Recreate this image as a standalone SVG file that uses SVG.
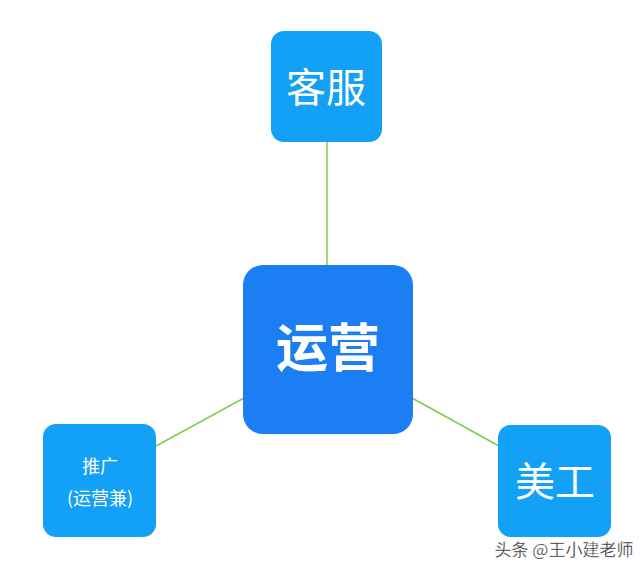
<svg xmlns="http://www.w3.org/2000/svg" width="640" height="570" viewBox="0 0 640 570">
<style>
.n{fill:#12a1f6}
.c{fill:#1b7ff3}
.t{fill:#fff;font-family:"Noto Sans CJK SC","Noto Sans",sans-serif;text-anchor:middle}
.l{stroke:#7ccf4a;stroke-width:1.5;fill:none}
</style>
<rect width="640" height="570" fill="#fff"/>
<g id="connectors">
<line class="l" x1="327" y1="142" x2="327" y2="266"/>
<line class="l" x1="156" y1="446" x2="244" y2="398"/>
<line class="l" x1="412" y1="398" x2="499" y2="446"/>
</g>
<g id="kefu">
<rect class="n" x="271" y="31" width="111" height="111" rx="13"/>
<text class="t" x="326" y="102" font-size="40">客服</text>
</g>
<g id="yunying">
<rect class="c" x="243" y="265" width="170" height="169" rx="20"/>
<text class="t" x="328" y="367" font-size="52" font-weight="bold">运营</text>
</g>
<g id="tuiguang">
<rect class="n" x="43" y="424" width="113" height="113" rx="13"/>
<text class="t" x="100" y="473" font-size="18">推广</text>
<text class="t" x="100" y="505" font-size="18">(运营兼)</text>
</g>
<g id="meigong">
<rect class="n" x="498" y="425" width="113" height="112" rx="13"/>
<text class="t" x="555" y="496" font-size="40">美工</text>
</g>
<text x="564" y="556" font-size="17" font-family="'Noto Sans CJK SC',sans-serif" fill="#222" stroke="#fff" stroke-width="0.3" text-anchor="middle">头条 @王小建老师</text>
</svg>
